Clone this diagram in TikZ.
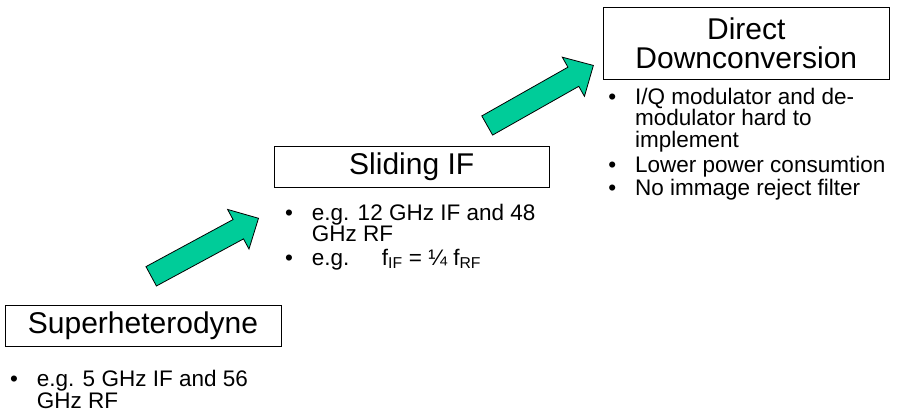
\documentclass[tikz,border=0pt]{standalone}
\usepackage{fontspec}
\setmainfont{Liberation Sans}
\definecolor{arrowgreen}{HTML}{00CC99}
\usetikzlibrary{positioning}
\newcommand{\bulletlist}[1]{\parbox[t]{270pt}{\raggedright\leavevmode\llap{\textbullet\hspace{19pt}}#1}}

\begin{document}
\begin{tikzpicture}[x=1pt, y=-1pt,
    stage/.style={draw, line width=1pt, inner sep=0pt, align=center,
      font=\fontsize{30}{28.5}\selectfont},
    note/.style={anchor=base west, inner sep=0pt,
      font=\fontsize{22.5}{21.7}\selectfont},
    growth/.style={fill=arrowgreen, draw=black, line width=0.8pt, line join=miter}]
  \useasboundingbox (0,0) rectangle (899,420);

  % the three receiver stages
  \node[stage, minimum width=276, minimum height=41] (super) at (143,325.5) {Superheterodyne};
  \node[stage, minimum width=275, minimum height=41] (sliding) at (411.7,167) {Sliding IF};
  \node[stage, minimum width=286, minimum height=72] (direct) at (746.3,43.2) {Direct\\Downconversion};

  % remarks under each stage
  \node[note] (super-n1) at (36.7,386.7) {\bulletlist{e.g. 5 GHz IF and 56\\GHz RF}};
  \node[note] (sliding-n1) at (311.7,220) {\bulletlist{e.g. 12 GHz IF and 48\\GHz RF}};
  \node[note] (sliding-n2) at (311.7,265) {\bulletlist{\makebox[70pt][l]{e.g.}f\textsubscript{IF} = ¼ f\textsubscript{RF}}};
  \node[note] (direct-n1) at (635,104) {\bulletlist{I/Q modulator and de-\\modulator hard to\\implement}};
  \node[note] (direct-n2) at (635,172) {\bulletlist{Lower power consumtion}};
  \node[note] (direct-n3) at (635,195) {\bulletlist{No immage reject filter}};

  % block arrows between stages
  \foreach \tx/\ty/\ang in {151.2/276.3/28.4, 487.2/125.5/29.5} {
    \begin{scope}[shift={(\tx,\ty)}, rotate=\ang]
      \filldraw[growth] (0,-11) -- (99,-11) -- (99,-22.5) -- (122,0)
        -- (99,22.5) -- (99,11) -- (0,11) -- cycle;
    \end{scope}
  }
\end{tikzpicture}
\end{document}
